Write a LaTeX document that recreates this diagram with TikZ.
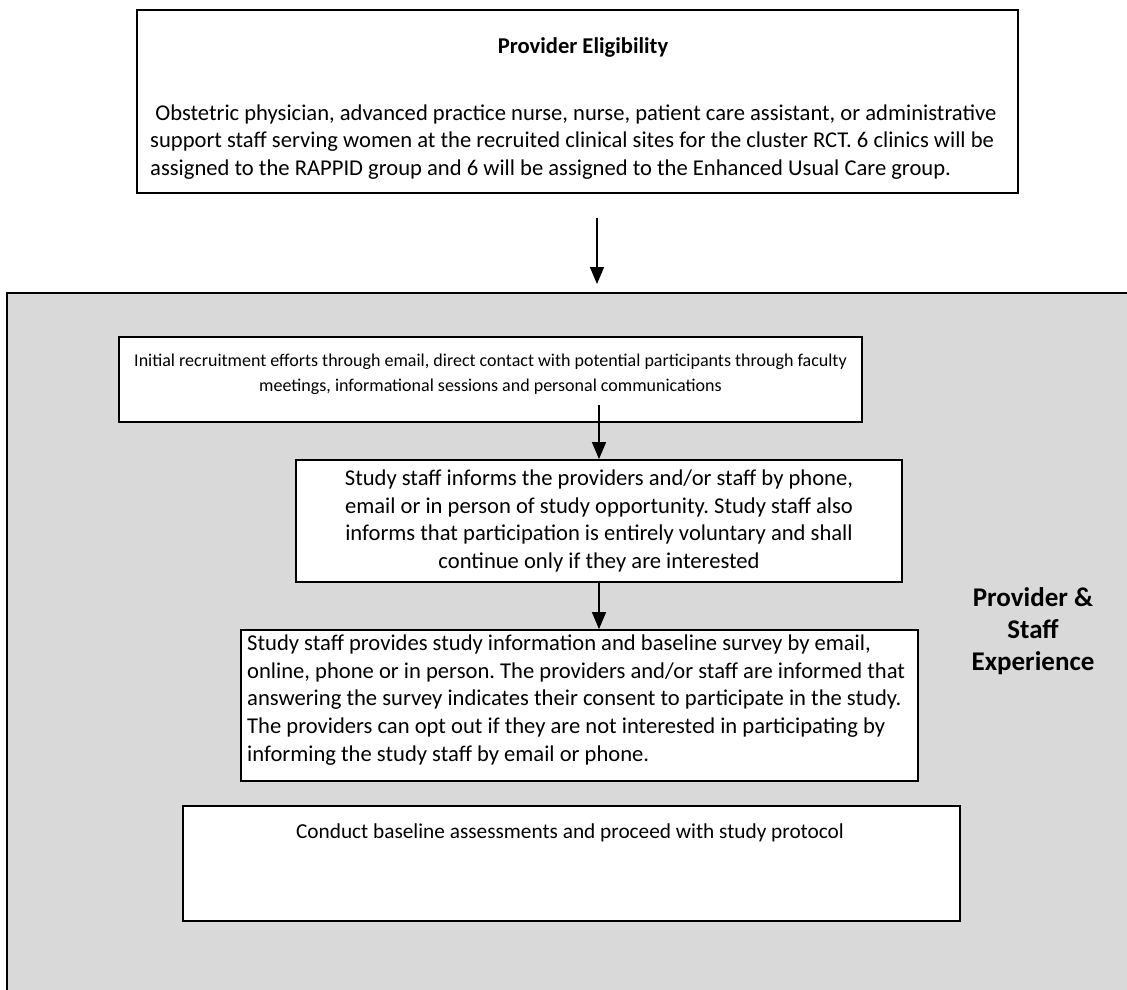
\documentclass[tikz,border=0pt]{standalone}
\usepackage{fontspec}
\setmainfont{Carlito}
\usetikzlibrary{arrows.meta}
\definecolor{panelgray}{HTML}{D9D9D9}
\frenchspacing
\begin{document}
\begin{tikzpicture}[x=1pt,y=-1pt,
    box/.style={draw, line width=1.8pt, fill=white},
    txt/.style={inner sep=0pt, font=\fontsize{22.6}{27.6}\selectfont},
    smalltxt/.style={inner sep=0pt, font=\fontsize{18}{24.5}\selectfont},
    arr/.style={line width=1.4pt, -{Triangle[width=14pt,length=17pt]}}]
    \useasboundingbox (0,0) rectangle (1127,990);
    \fill [white] (0,0) rectangle (1127,990);
    \clip (0,0) rectangle (1127,990);
    % gray panel, runs off the right and bottom edges
    \draw [fill=panelgray, line width=1.8pt] (7,293) rectangle (1160,1020);
    % eligibility box
    \node [box, minimum width=881pt, minimum height=183pt] (elig) at (577.5,101.5) {};
    \node [txt, font=\fontsize{22.6}{27.6}\selectfont\bfseries] (eligtitle) at (583,47) {Provider Eligibility};
    \node [txt, anchor=west, align=left] (eligtext) at (150,142)
      {\ Obstetric physician, advanced practice nurse, nurse, patient care assistant, or administrative\\
       support staff serving women at the recruited clinical sites for the cluster RCT. 6 clinics will be\\
       assigned to the RAPPID group and 6 will be assigned to the Enhanced Usual Care group.};
    \coordinate (a1s) at (597,218);
    \coordinate (a1e) at (597,284);
    \draw [arr] (a1s) -- (a1e);
    % steps inside the panel
    \node [box, minimum width=743pt, minimum height=85pt] (recruit) at (490.5,379.5) {};
    \node [smalltxt, align=center] (recruittext) at (490.5,374.5)
      {Initial recruitment efforts through email, direct contact with potential participants through faculty\\
       meetings, informational sessions and personal communications};
    \node [box, minimum width=606pt, minimum height=122pt] (inform) at (599,521) {};
    \node [txt, align=center] (informtext) at (599,521)
      {Study staff informs the providers and/or staff by phone,\\
       email or in person of study opportunity. Study staff also\\
       informs that participation is entirely voluntary and shall\\
       continue only if they are interested};
    \node [box, minimum width=677pt, minimum height=151pt] (survey) at (579.5,705.5) {};
    \node [txt, anchor=west, align=left] (surveytext) at (247,700)
      {Study staff provides study information and baseline survey by email,\\
       online, phone or in person. The providers and/or staff are informed that\\
       answering the survey indicates their consent to participate in the study.\\
       The providers can opt out if they are not interested in participating by\\
       informing the study staff by email or phone.};
    \node [box, minimum width=777pt, minimum height=115pt] (baseline) at (571.5,863.5) {};
    \node [txt, font=\fontsize{21.3}{26}\selectfont] (baselinetext) at (570,833) {Conduct baseline assessments and proceed with study protocol};
    \node [txt, align=center, font=\fontsize{27}{32}\selectfont\bfseries] (panellabel) at (1033,631.5)
      {Provider \&\\Staff\\Experience};
    \draw [arr] ([yshift=18pt]inform.north |- recruit.south) -- (inform.north);
    \draw [arr] (inform.south) -- (inform.south |- survey.north);
\end{tikzpicture}
\end{document}
